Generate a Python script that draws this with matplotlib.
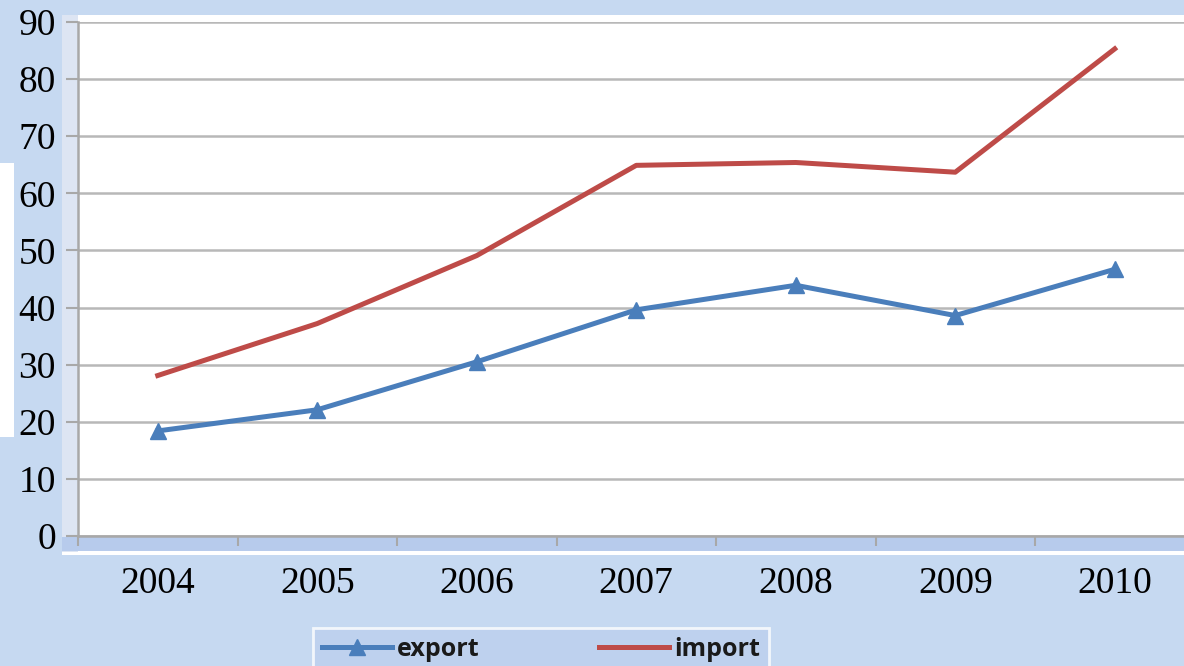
import matplotlib.pyplot as plt
from matplotlib.patches import Rectangle

years = ['2004', '2005', '2006', '2007', '2008', '2009', '2010']
export = [18.4, 22.1, 30.5, 39.6, 43.9, 38.6, 46.7]
imports = [28.1, 37.2, 49.1, 64.9, 65.4, 63.7, 85.3]
y_ticks = [0, 10, 20, 30, 40, 50, 60, 70, 80, 90]

W, H = 1184, 666
bg = '#c6d9f1'
fig = plt.figure(figsize=(W / 100, H / 100), dpi=100, facecolor=bg)

def px_rect(x0, y0, x1, y1, **kw):
    # rectangle in pixel coords (y from top)
    fig.patches.append(Rectangle((x0 / W, 1 - y1 / H), (x1 - x0) / W, (y1 - y0) / H,
                                 transform=fig.transFigure, figure=fig, zorder=-5, **kw))

# white chart panel and the odd white strip at the left edge
px_rect(62, 15, W, 555, facecolor='white', edgecolor='none')
px_rect(0, 163, 14, 437, facecolor='white', edgecolor='none')
px_rect(62, 15, 78, 552, facecolor='#dde5f3', edgecolor='none')
px_rect(62, 537, W, 551, facecolor='#b7cbec', edgecolor='none')

left, bottom, top = 78 / W, 1 - 536 / H, 1 - 22 / H
width = 7 * 159.5 / W
ax = fig.add_axes([left, bottom, width, top - bottom])
ax.set_facecolor('none')

x = range(len(years))
ax.plot(x, export, color='#4a7ebb', lw=3.6, marker='^', ms=11, label='export',
        solid_joinstyle='miter', zorder=3)
ax.plot(x, imports, color='#be4b48', lw=3.6, label='import', zorder=3)

ax.set_xlim(-0.5, len(years) - 0.5)
ax.set_ylim(0, 90)
ax.set_yticks(y_ticks)
ax.set_yticklabels([str(v) for v in y_ticks])
ax.set_xticks(list(x))
ax.set_xticklabels(years)
ax.set_xticks([i - 0.5 for i in range(len(years) + 1)], minor=True)

for lab in ax.get_xticklabels() + ax.get_yticklabels():
    lab.set_fontfamily('Liberation Serif')
    lab.set_fontsize(27)
    lab.set_color('black')

ax.tick_params(axis='y', length=9, width=1.5, color='#a8a8a8', pad=7)
ax.tick_params(axis='x', which='major', length=0, pad=22)
ax.tick_params(axis='x', which='minor', length=7, width=1.5, color='#a8a8a8')

ax.grid(axis='y', color='#b8b8b8', lw=1.8, zorder=1)
ax.set_axisbelow(True)
for side in ['top', 'right']:
    ax.spines[side].set_visible(False)
ax.spines['left'].set_color('#a8a8a8')
ax.spines['left'].set_linewidth(1.8)
ax.spines['bottom'].set_color('#a8a8a8')
ax.spines['bottom'].set_linewidth(1.8)

leg = fig.legend(loc='upper left', bbox_to_anchor=(313 / W, 1 - 628 / H), ncol=2,
                 frameon=True, fancybox=False, handlelength=2.8, handletextpad=0.2,
                 columnspacing=4.8, borderpad=0.35, borderaxespad=0,
                 prop={'family': 'Open Sans', 'weight': 'bold', 'size': 18})
frame = leg.get_frame()
frame.set_facecolor('#bcd0ee')
frame.set_edgecolor('white')
frame.set_linewidth(2)
for t in leg.get_texts():
    t.set_color('#1a1a1a')

fig.savefig('out.png', dpi=100, facecolor=bg)
